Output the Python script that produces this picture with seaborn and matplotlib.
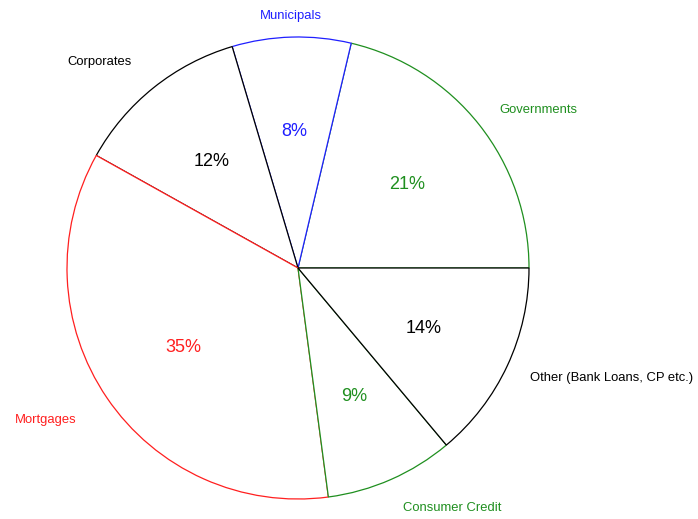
import numpy as np
import matplotlib
matplotlib.use("Agg")
import matplotlib.pyplot as plt
import seaborn as sns

# shares (percent)
categories = ["Governments", "Municipals", "Corporates", "Mortgages",
              "Consumer Credit", "Other (Bank Loans, CP etc.)"]
shares = [21.3, 8.3, 12.3, 35.2, 9.0, 13.9]
colors = ["#1f8f1f", "#1f1fff", "black", "#ff1f1f", "#1f8f1f", "black"]
# how far out each category label sits (fraction of radius)
label_dist = [1.11, 1.10, 1.15, 1.16, 1.13, 1.11]

sns.set_theme(style="white")
plt.rcParams['font.family'] = ['Liberation Sans', 'DejaVu Sans']

fig = plt.figure(figsize=(6.98, 5.19), dpi=100)
# pie centre at (298, 268) px, radius 231 px
ax = fig.add_axes([(298 - 231) / 698, (519 - 268 - 231) / 519, 462 / 698, 462 / 519])

wedges, texts, autotexts = ax.pie(
    shares, labels=categories, startangle=0, counterclock=True,
    autopct='%1.0f%%', pctdistance=0.6, labeldistance=1.12, radius=1,
    wedgeprops=dict(facecolor="white", linewidth=0.9),
    textprops=dict(fontsize=9.4))

for w, t, a, c, d in zip(wedges, texts, autotexts, colors, label_dist):
    w.set_edgecolor(c)
    t.set_color(c)
    a.set_color(c)
    a.set_fontsize(13)
    a.set_va("center_baseline")
    mid = np.deg2rad((w.theta1 + w.theta2) / 2)
    t.set_position((d * np.cos(mid), d * np.sin(mid)))
    t.set_va("center_baseline")
    # labels near the top/bottom are centred
    if abs(np.cos(mid)) < 0.15:
        t.set_ha("center")

ax.set_xlim(-1, 1)
ax.set_ylim(-1, 1)
ax.set_aspect("equal")
ax.axis("off")

fig.savefig("out.png", dpi=100)
